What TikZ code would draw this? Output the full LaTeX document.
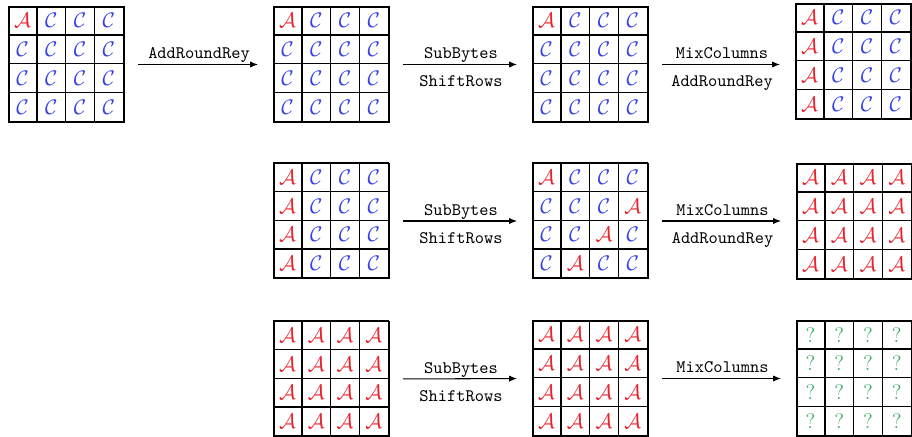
\documentclass[tikz,border=0pt]{standalone}
\usepackage{amsmath,amssymb}
\usepackage{xcolor}
\usepackage{tikz}
\usetikzlibrary{arrows.meta, positioning, calc}

\definecolor{keyred}{RGB}{232,35,45}
\definecolor{ctblue}{RGB}{55,65,232}
\definecolor{unkgreen}{RGB}{60,175,100}

\newcommand{\cA}{\textcolor{keyred}{$\mathcal{A}$}}
\newcommand{\cC}{\textcolor{ctblue}{$\mathcal{C}$}}
\newcommand{\cQ}{\textcolor{unkgreen}{?}}

% one 4x4 state: name, centre, the 16 cells row by row
\newcommand{\aesstate}[3]{%
  \node[grid] (#1) at (#2) {};
  \foreach \v [count=\i from 0] in {#3} {
    \pgfmathtruncatemacro{\srow}{\i/4}
    \pgfmathtruncatemacro{\scol}{mod(\i,4)}
    \node[cell] (#1-\srow\scol) at ($(#1.north west)+(\scol*28.75+14.375,\srow*28.75+14.375)$) {\v};
  }
}

\begin{document}
\begin{tikzpicture}[
    x=0.02cm, y=-0.02cm,
    grid/.style={draw, line width=0.9pt, minimum size=2.3cm, inner sep=0pt},
    cell/.style={draw, line width=0.8pt, minimum size=0.575cm, inner sep=0pt, font=\large},
    arr/.style={-{Latex[length=4.5pt, width=3.5pt]}, line width=0.6pt, shorten <=7.4pt, shorten >=8.6pt},
    lbl/.style={font=\ttfamily, inner sep=0pt, anchor=base},
    up/.style={lbl, yshift=3.2pt},
    down/.style={lbl, yshift=-12.8pt}
]
\useasboundingbox (0,0) rectangle (912,436);
\clip (0,0) rectangle (912,436);

% Row 1: first round
\aesstate{s1}{66.5,64.5}{\cA,\cC,\cC,\cC, \cC,\cC,\cC,\cC, \cC,\cC,\cC,\cC, \cC,\cC,\cC,\cC}
\aesstate{s2}{331.5,64.5}{\cA,\cC,\cC,\cC, \cC,\cC,\cC,\cC, \cC,\cC,\cC,\cC, \cC,\cC,\cC,\cC}
\aesstate{s3}{590.5,64.5}{\cA,\cC,\cC,\cC, \cC,\cC,\cC,\cC, \cC,\cC,\cC,\cC, \cC,\cC,\cC,\cC}
\aesstate{s4}{853.5,61.5}{\cA,\cC,\cC,\cC, \cA,\cC,\cC,\cC, \cA,\cC,\cC,\cC, \cA,\cC,\cC,\cC}

% Row 2: second round
\aesstate{s5}{331.5,221}{\cA,\cC,\cC,\cC, \cA,\cC,\cC,\cC, \cA,\cC,\cC,\cC, \cA,\cC,\cC,\cC}
\aesstate{s6}{590.5,221}{\cA,\cC,\cC,\cC, \cC,\cC,\cC,\cA, \cC,\cC,\cA,\cC, \cC,\cA,\cC,\cC}
\aesstate{s7}{854.5,221.5}{\cA,\cA,\cA,\cA, \cA,\cA,\cA,\cA, \cA,\cA,\cA,\cA, \cA,\cA,\cA,\cA}

% Row 3: third round
\aesstate{s8}{331.5,379}{\cA,\cA,\cA,\cA, \cA,\cA,\cA,\cA, \cA,\cA,\cA,\cA, \cA,\cA,\cA,\cA}
\aesstate{s9}{590.5,378.5}{\cA,\cA,\cA,\cA, \cA,\cA,\cA,\cA, \cA,\cA,\cA,\cA, \cA,\cA,\cA,\cA}
\aesstate{s10}{854.5,378.5}{\cQ,\cQ,\cQ,\cQ, \cQ,\cQ,\cQ,\cQ, \cQ,\cQ,\cQ,\cQ, \cQ,\cQ,\cQ,\cQ}

% Round operations
\draw[arr] (s1.east) -- node[up] {AddRoundRey} (s2.west);
\draw[arr] (s2.east) -- node[up] {SubBytes} node[down] {ShiftRows} (s3.west);
\draw[arr] (s3.east) -- node[up] {MixColumns} node[down] {AddRoundRey} (s3.east -| s4.west);

\draw[arr] (s5.east) -- node[up] {SubBytes} node[down] {ShiftRows} (s6.west);
\draw[arr] (s6.east) -- node[up] {MixColumns} node[down] {AddRoundRey} (s6.east -| s7.west);

\draw[arr] (s8.east) -- node[up] {SubBytes} node[down] {ShiftRows} (s9.west);
\draw[arr] (s9.east) -- node[up] {MixColumns} (s9.east -| s10.west);

\end{tikzpicture}
\end{document}
